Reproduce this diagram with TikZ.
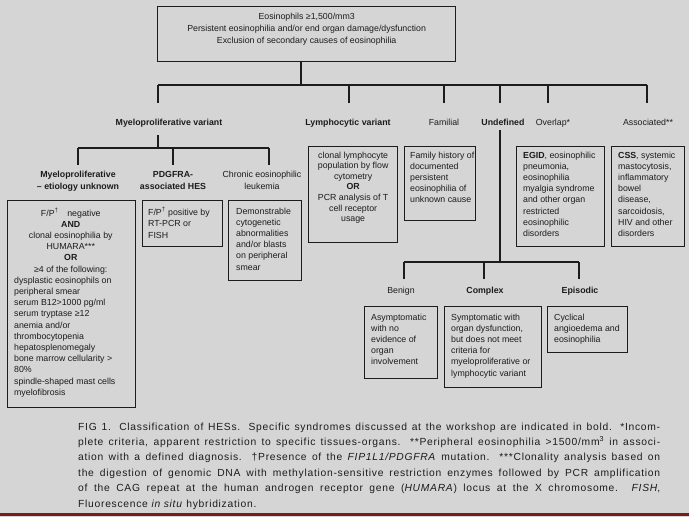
\documentclass[tikz,border=0pt]{standalone}
\usepackage{fontspec}
\setmainfont{Liberation Sans}
\newfontfamily\capfont[LetterSpace=7]{Liberation Sans}
\definecolor{bg}{RGB}{213,213,213}
\definecolor{ink}{RGB}{28,28,28}
\definecolor{redline}{RGB}{122,28,30}
\tikzset{
  boxst/.style={draw=ink, line width=1.3pt, text=ink},
  conn/.style={draw=ink, line width=1.1pt},
  lbl/.style={inner sep=0pt, anchor=base, text=ink, font=\fontsize{8.8}{12}\selectfont},
}
% name, x1, y1, x2, y2, top pad, prefix, column spec, lines
\newcommand\hbx[9]{%
  \node[boxst, anchor=north west, inner xsep=5.5pt, inner ysep=0pt] (#1) at (#2,#3)
  {\parbox[c][\dimexpr #5pt-#3pt\relax][t]{\dimexpr #4pt-#2pt-11pt\relax}{\fontsize{8.8}{11.2}\selectfont\vspace*{#6pt}#7\begin{tabular}[t]{@{}#8@{}}#9\end{tabular}\par}};}
\newcommand\mc[1]{\multicolumn{1}{@{}c@{}}{\hspace*{12pt}#1}}
\begin{document}
\begin{tikzpicture}[x=1pt,y=-1pt]
\fill[bg] (0,0) rectangle (689,517);
\useasboundingbox (0,0) rectangle (689,517);
\fill[redline] (0,512.5) rectangle (689,516);

% top box
\hbx{top}{157}{6}{455}{61}{4.6}{\centering\fontsize{8.8}{12}\selectfont}{c}{Eosinophils ≥1,500/mm3\\Persistent eosinophilia and/or end organ damage/dysfunction\\Exclusion of secondary causes of eosinophilia}

% level 1 labels
\node[lbl] (mpv) at (169,125) {\textbf{Myeloproliferative variant}};
\node[lbl] (lym) at (348,125) {\textbf{Lymphocytic variant}};
\node[lbl] (fam) at (444,125) {Familial};
\node[lbl] (und) at (503,125) {\textbf{Undefined}};
\node[lbl] (ovl) at (553,125) {Overlap*};
\node[lbl] (asc) at (648,125) {Associated**};

% level 2 labels
\node[lbl] (mpu) at (78,177.5) {\begin{tabular}[t]{@{}c@{}}\textbf{Myeloproliferative}\\\textbf{– etiology unknown}\end{tabular}};
\node[lbl] (pdg) at (173,177.5) {\begin{tabular}[t]{@{}c@{}}\textbf{PDGFRA-}\\\textbf{associated HES}\end{tabular}};
\node[lbl] (cel) at (262,177.5) {\begin{tabular}[t]{@{}c@{}}Chronic eosinophilic\\leukemia\end{tabular}};

\node[lbl] (ben) at (401,293) {Benign};
\node[lbl] (com) at (485,293) {\textbf{Complex}};
\node[lbl] (epi) at (580,293) {\textbf{Episodic}};

% boxes
\hbx{mpub}{7}{200}{135}{407}{7.2}{\hspace*{1pt}}{l}{\mc{F/P\textsuperscript{†}\quad negative}\\\mc{\textbf{AND}}\\\mc{clonal eosinophilia by}\\\mc{HUMARA***}\\\mc{\textbf{OR}}\\\mc{≥4 of the following:}\\
dysplastic eosinophils on\\peripheral smear\\serum B12>1000 pg/ml\\serum tryptase ≥12\\anemia and/or\\thrombocytopenia\\hepatosplenomegaly\\bone marrow cellularity >\\80\%\\spindle-shaped mast cells\\myelofibrosis}
\hbx{pdgb}{142}{200}{222}{246}{6.7}{}{l}{F/P\textsuperscript{†} positive by\\RT-PCR or\\FISH}
\hbx{celb}{228}{200}{301}{280}{5.7}{\hspace*{2pt}}{l}{Demonstrable\\cytogenetic\\abnormalities\\and/or blasts\\on peripheral\\smear}
\hbx{lymb}{308}{146}{397}{242}{4.1}{\centering\fontsize{8.8}{10.6}\selectfont}{c}{clonal lymphocyte\\population by flow\\cytometry\\\textbf{OR}\\PCR analysis of T\\cell receptor\\usage}
\hbx{famb}{404}{146}{475}{220}{3.7}{}{l}{Family history of\\documented\\persistent\\eosinophilia of\\unknown cause}
\hbx{ovlb}{516}{146}{604}{246}{3.7}{\hspace*{1pt}}{l}{\textbf{EGID}, eosinophilic\\pneumonia,\\eosinophilia\\myalgia syndrome\\and other organ\\restricted\\eosinophilic\\disorders}
\hbx{ascb}{611}{146}{684}{246}{3.7}{\hspace*{1pt}}{l}{\textbf{CSS}, systemic\\mastocytosis,\\inflammatory\\bowel\\disease,\\sarcoidosis,\\HIV and other\\disorders}
\hbx{benb}{364}{306}{437}{378}{5.7}{\hspace*{1pt}}{l}{Asymptomatic\\with no\\evidence of\\organ\\involvement}
\hbx{comb}{444}{306}{541}{387}{5.7}{\hspace*{1pt}}{l}{Symptomatic with\\organ dysfunction,\\but does not meet\\criteria for\\myeloproliferative or\\lymphocytic variant}
\hbx{epib}{547}{306}{627}{352}{5.7}{\hspace*{1pt}}{l}{Cyclical\\angioedema and\\eosinophilia}

% connectors
\coordinate (j1) at (301,85);
\coordinate (j1L) at (158,85);
\coordinate (j1R) at (647,85);
\draw[conn] (top.south -| j1) -- (j1);
\draw[conn] (j1L) -- (j1R);
\foreach \x in {158,349,444,500,548,647} \draw[conn] (\x,85) -- (\x,103);
\coordinate (j2) at (158,148);
\draw[conn] (158,135) -- (j2);
\draw[conn] (78,148) -- (269,148);
\foreach \x in {78,173,269} \draw[conn] (\x,148) -- (\x,165);
\coordinate (j3) at (500,262);
\draw[conn] (500,130) -- (j3);
\draw[conn] (404,262) -- (579,262);
\foreach \x in {404,484,579} \draw[conn] (\x,262) -- (\x,279);

% caption
\node[anchor=base west, inner sep=0pt, text=ink] (cap) at (78,430) {\parbox[t]{582pt}{\capfont\fontsize{10.3}{15.4}\selectfont
\makebox[582pt][s]{FIG 1. Classification of HESs. Specific syndromes discussed at the workshop are indicated in bold. *Incom-}\\
\makebox[582pt][s]{plete criteria, apparent restriction to specific tissues-organs. **Peripheral eosinophilia >1500/mm\textsuperscript{3} in associ-}\\
\makebox[582pt][s]{ation with a defined diagnosis. †Presence of the \textit{FIP1L1/PDGFRA} mutation. ***Clonality analysis based on}\\
\makebox[582pt][s]{the digestion of genomic DNA with methylation-sensitive restriction enzymes followed by PCR amplification}\\
\makebox[582pt][s]{of the CAG repeat at the human androgen receptor gene (\textit{HUMARA}) locus at the X chromosome. \textit{FISH},}\\
Fluorescence \textit{in situ} hybridization.}};
\end{tikzpicture}
\end{document}
